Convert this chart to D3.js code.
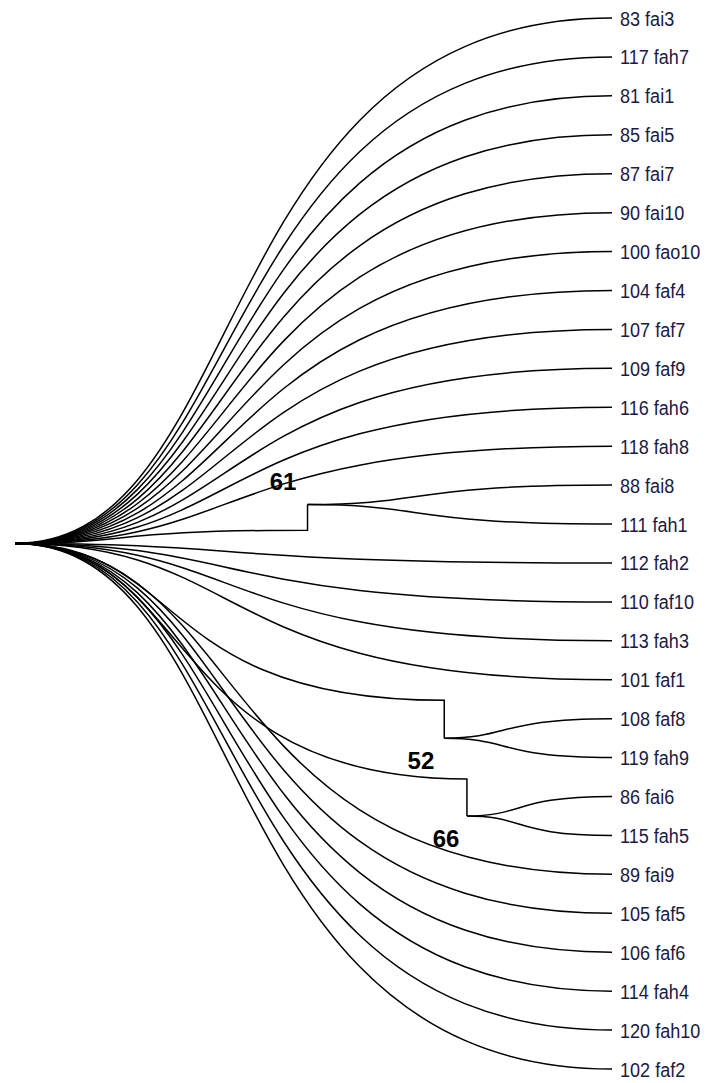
<!DOCTYPE html>
<html>
<head>
<meta charset="utf-8">
<script src="https://cdn.jsdelivr.net/npm/d3@7"></script>
<style>
  html, body { margin: 0; padding: 0; background: #fff; }
  svg { display: block; }
</style>
</head>
<body>
<svg id="chart" width="706" height="1083"></svg>
<script>
// ---- data ----
// leaf order, top to bottom
const leaves = [
  "83 fai3", "117 fah7", "81 fai1", "85 fai5", "87 fai7", "90 fai10",
  "100 fao10", "104 faf4", "107 faf7", "109 faf9", "116 fah6", "118 fah8",
  "88 fai8", "111 fah1", "112 fah2", "110 faf10", "113 fah3", "101 faf1",
  "108 faf8", "119 fah9", "86 fai6", "115 fah5", "89 fai9", "105 faf5",
  "106 faf6", "114 fah4", "120 fah10", "102 faf2"
];
// internal clades (all other leaves hang straight from the root)
const cladeNames   = ["A", "B", "C"];
const cladeMembers = [["88 fai8", "111 fah1"], ["108 faf8", "119 fah9"], ["86 fai6", "115 fah5"]];
const cladeDepth   = [0.490, 0.719, 0.757];      // relative distance from root (0..1)
const cladeStemEnd = [13.16, 17.53, 19.55];      // where the stem curve meets the node (leaf-index units)
// support values and where they are printed (depth, leaf-index units)
const supportValues = ["61", "52", "66"];
const supportDepth  = [0.449, 0.680, 0.722];
const supportPos    = [11.9, 19.07, 21.07];

// ---- build the tree ----
const treeData = { name: "root", depth: 0, children: [] };
const used = new Set();
leaves.forEach(name => {
  if (used.has(name)) return;
  const ci = cladeMembers.findIndex(m => m.includes(name));
  if (ci >= 0) {
    treeData.children.push({
      name: cladeNames[ci], len: cladeDepth[ci], stem: cladeStemEnd[ci],
      children: cladeMembers[ci].map(n => ({ name: n, len: 1 }))
    });
    cladeMembers[ci].forEach(n => used.add(n));
  } else {
    treeData.children.push({ name: name, len: 1 });
    used.add(name);
  }
});
const root = d3.hierarchy(treeData);

// ---- scales ----
const x = d3.scaleLinear().domain([0, 1]).range([15, 612]);
const yLeaf = d3.scalePoint().domain(leaves).range([18, 1069]);
const yIdx = d3.scaleLinear().domain([0, leaves.length - 1]).range([18, 1069]);

// positions
root.eachAfter(n => {
  if (!n.children) n.py = yLeaf(n.data.name);
  else n.py = d3.mean(n.children, c => c.py);
});
root.py = yIdx((leaves.length - 1) / 2);
root.each(n => { n.px = x(n.data.len || 0); });

// sigmoid branch curve
const A = 0.40, B = 0.32;
function curve(x0, y0, x1, y1) {
  const dx = x1 - x0;
  const p = d3.path();
  p.moveTo(x0, y0);
  p.bezierCurveTo(x0 + A * dx, y0, x0 + B * dx, y1, x1, y1);
  return p;
}

const svg = d3.select("#chart");
const g = svg.append("g");

const paths = [];
root.children.forEach(c => {
  if (c.children) {
    const ye = yIdx(c.data.stem);
    const p = curve(root.px, root.py, c.px, ye);
    p.lineTo(c.px, c.py);
    paths.push(p.toString());
    c.children.forEach(l => paths.push(curve(c.px, c.py, l.px, l.py).toString()));
  } else {
    paths.push(curve(root.px, root.py, c.px, c.py).toString());
  }
});

g.selectAll("path.branch").data(paths).join("path")
  .attr("class", "branch")
  .attr("d", d => d)
  .attr("fill", "none")
  .attr("stroke", "#000")
  .attr("stroke-width", 1.5);

// leaf labels
const fs = 21;
g.selectAll("text.leaf").data(root.leaves()).join("text")
  .attr("class", "leaf")
  .attr("transform", d => `translate(${d.px + 8},${d.py + 0.358 * fs}) scale(0.86,1)`)
  .attr("font-family", "Liberation Sans, Arial, sans-serif")
  .attr("font-size", fs)
  .attr("fill", "#1a1a44")
  .text(d => d.data.name);

// support values
const bfs = 24;
g.selectAll("text.support").data(supportValues).join("text")
  .attr("class", "support")
  .attr("x", (d, i) => x(supportDepth[i]))
  .attr("y", (d, i) => yIdx(supportPos[i]) + 0.358 * bfs)
  .attr("text-anchor", "middle")
  .attr("font-family", "Liberation Sans, Arial, sans-serif")
  .attr("font-weight", "bold")
  .attr("font-size", bfs)
  .attr("fill", "#000")
  .text(d => d);
</script>
</body>
</html>
